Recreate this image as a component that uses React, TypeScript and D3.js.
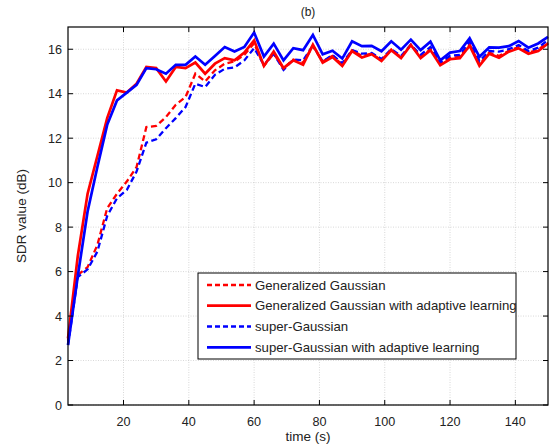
import React from "react";
import * as d3 from "d3";

const times: number[] = d3.range(3, 151, 3);

const ggValues: number[] = [
  2.9, 5.85, 6.2, 7.2, 8.85, 9.5, 10.05, 10.7, 12.5, 12.55,
  12.95, 13.5, 13.85, 14.9, 14.55, 15.05, 15.35, 15.45, 15.75, 16.27,
  15.25, 15.8, 15.14, 15.54, 15.4, 16.14, 15.45, 15.7, 15.3, 15.95,
  15.7, 15.8, 15.5, 15.98, 15.64, 16.2, 15.65, 16.0, 15.35, 15.6,
  15.66, 16.22, 15.32, 15.85, 15.7, 15.93, 16.1, 15.85, 15.98, 16.3,
];
const ggAdaptiveValues: number[] = [
  3.0, 6.7, 9.5, 11.2, 12.9, 14.15, 14.05, 14.45, 15.2, 15.15,
  14.55, 15.2, 15.15, 15.4, 14.9, 15.35, 15.6, 15.5, 15.85, 16.4,
  15.25, 15.9, 15.15, 15.5, 15.3, 16.2, 15.4, 15.65, 15.25, 15.92,
  15.63, 15.78, 15.47, 15.96, 15.6, 16.19, 15.6, 15.96, 15.28, 15.55,
  15.6, 16.16, 15.26, 15.8, 15.62, 15.89, 16.04, 15.8, 15.92, 16.26,
];
const sgValues: number[] = [
  2.7, 5.75, 6.1, 6.9, 8.5, 9.3, 9.67, 10.5, 11.8, 11.95,
  12.45, 12.9, 13.4, 14.45, 14.3, 14.85, 15.12, 15.18, 15.5, 16.05,
  15.3, 15.8, 15.07, 15.54, 15.5, 16.17, 15.45, 15.74, 15.37, 15.96,
  15.8, 15.83, 15.56, 16.0, 15.7, 16.2, 15.75, 16.1, 15.4, 15.7,
  15.75, 16.34, 15.47, 15.92, 15.89, 16.0, 16.19, 15.92, 16.07, 16.41,
];
const sgAdaptiveValues: number[] = [
  2.7, 5.8, 8.7, 10.7, 12.6, 13.7, 14.05, 14.4, 15.15, 15.1,
  14.9, 15.3, 15.3, 15.67, 15.3, 15.7, 16.1, 15.9, 16.1, 16.75,
  15.67, 16.25, 15.5, 16.05, 15.96, 16.64, 15.77, 15.93, 15.58, 16.36,
  16.14, 16.15, 15.91, 16.36, 15.98, 16.43, 15.96, 16.34, 15.5, 15.85,
  15.92, 16.49, 15.66, 16.08, 16.07, 16.14, 16.37, 16.07, 16.26, 16.56,
];

const seriesNames: string[] = [
  "Generalized Gaussian",
  "Generalized Gaussian with adaptive learning",
  "super-Gaussian",
  "super-Gaussian with adaptive learning",
];
const seriesColors: string[] = ["#ff0000", "#ff0000", "#0000ff", "#0000ff"];
const seriesDashed: boolean[] = [true, false, true, false];
const seriesData: number[][] = [ggValues, ggAdaptiveValues, sgValues, sgAdaptiveValues];

const xTicks: number[] = [20, 40, 60, 80, 100, 120, 140];
const yTicks: number[] = [0, 2, 4, 6, 8, 10, 12, 14, 16];

const W = 557;
const H = 447;
const M = { left: 68, right: 548, top: 27, bottom: 405 };
const FONT = "'Liberation Sans', Arial, Helvetica, sans-serif";

export default function App() {
  const x = d3.scaleLinear().domain([3, 150]).range([M.left, M.right]);
  const y = d3.scaleLinear().domain([0, 17]).range([M.bottom, M.top]);
  const line = d3
    .line<[number, number]>()
    .x((d) => x(d[0]))
    .y((d) => y(d[1]));

  const legendX = 198;
  const legendY = 273;
  const legendW = 318;
  const legendH = 86;
  const rowYs = [285, 305.7, 326.5, 347.3];

  const order = [0, 2, 1, 3];

  return (
    <svg
      width={W}
      height={H}
      style={{ position: "absolute", left: 0, top: 0, background: "#fff" }}
      fontFamily={FONT}
    >
      <rect x={0} y={0} width={W} height={H} fill="#fff" />
      {xTicks.map((t) => (
        <line
          key={"gx" + t}
          x1={x(t)}
          x2={x(t)}
          y1={M.top}
          y2={M.bottom}
          stroke="#bdbdbd"
          strokeWidth={0.6}
          strokeDasharray="1,1.5"
        />
      ))}
      {yTicks.map((t) => (
        <line
          key={"gy" + t}
          x1={M.left}
          x2={M.right}
          y1={y(t)}
          y2={y(t)}
          stroke="#bdbdbd"
          strokeWidth={0.6}
          strokeDasharray="1,1.5"
        />
      ))}
      <g>
        {order.map((i) => (
          <path
            key={"s" + i}
            d={line(times.map((t, k) => [t, seriesData[i][k]] as [number, number])) || ""}
            fill="none"
            stroke={seriesColors[i]}
            strokeWidth={seriesDashed[i] ? 2.3 : 2.7}
            strokeDasharray={seriesDashed[i] ? "6,3.5" : undefined}
            strokeLinejoin="miter"
          />
        ))}
      </g>
      <rect
        x={M.left}
        y={M.top}
        width={M.right - M.left}
        height={M.bottom - M.top}
        fill="none"
        stroke="#000"
        strokeWidth={1.2}
      />
      {xTicks.map((t) => (
        <g key={"tx" + t}>
          <line x1={x(t)} x2={x(t)} y1={M.bottom} y2={M.bottom - 5} stroke="#000" strokeWidth={1} />
          <line x1={x(t)} x2={x(t)} y1={M.top} y2={M.top + 5} stroke="#000" strokeWidth={1} />
          <text x={x(t)} y={M.bottom + 21} fontSize={12.6} textAnchor="middle" fill="#222">
            {t}
          </text>
        </g>
      ))}
      {yTicks.map((t) => (
        <g key={"ty" + t}>
          <line x1={M.left} x2={M.left + 5} y1={y(t)} y2={y(t)} stroke="#000" strokeWidth={1} />
          <line x1={M.right} x2={M.right - 5} y1={y(t)} y2={y(t)} stroke="#000" strokeWidth={1} />
          <text x={M.left - 6} y={y(t) + 4.6} fontSize={12.6} textAnchor="end" fill="#222">
            {t}
          </text>
        </g>
      ))}
      <text x={(M.left + M.right) / 2} y={441} fontSize={13.5} textAnchor="middle" fill="#222">
        time (s)
      </text>
      <text
        transform={`translate(26,${(M.top + M.bottom) / 2}) rotate(-90)`}
        fontSize={13.5}
        textAnchor="middle"
        fill="#222"
      >
        SDR value (dB)
      </text>
      <text x={(M.left + M.right) / 2} y={16} fontSize={12} textAnchor="middle" fill="#222">
        (b)
      </text>
      <rect x={legendX} y={legendY} width={legendW} height={legendH} fill="#fff" stroke="#000" strokeWidth={1} />
      {seriesNames.map((name, i) => (
        <g key={"lg" + i}>
          <line
            x1={207}
            x2={251}
            y1={rowYs[i]}
            y2={rowYs[i]}
            stroke={seriesColors[i]}
            strokeWidth={seriesDashed[i] ? 2.3 : 2.7}
            strokeDasharray={seriesDashed[i] ? "5,3" : undefined}
          />
          <text x={255} y={rowYs[i] + 4.7} fontSize={13.2} fill="#222">
            {name}
          </text>
        </g>
      ))}
    </svg>
  );
}
